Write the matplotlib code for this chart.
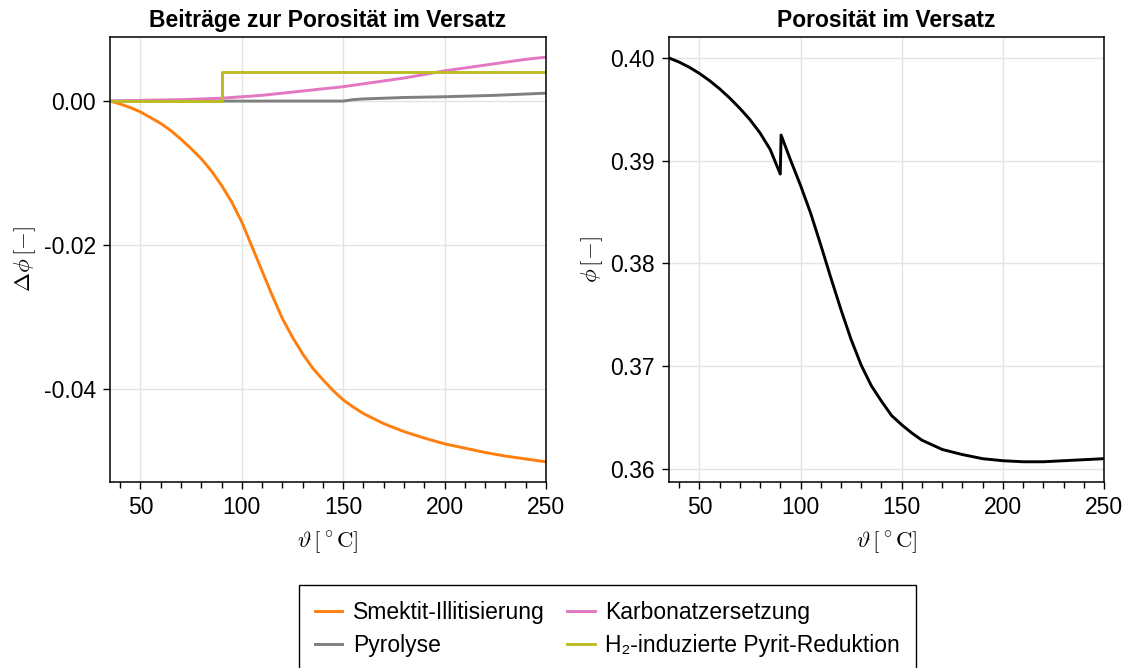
import matplotlib.pyplot as plt
from matplotlib.ticker import MultipleLocator, FuncFormatter

plt.rcParams['font.family'] = ['Liberation Sans', 'DejaVu Sans']
plt.rcParams['mathtext.fontset'] = 'cm'
plt.rcParams['axes.unicode_minus'] = False

# Left panel: contributions to porosity
t_smektit = [35, 40, 45, 50, 55, 60, 65, 70, 75, 80, 85, 90, 95, 100, 105, 110,
             115, 120, 125, 130, 135, 140, 145, 150, 155, 160, 165, 170, 180,
             190, 200, 210, 220, 230, 240, 250]
d_smektit = [0.0, -0.0004, -0.0009, -0.0015, -0.0023, -0.0031, -0.0041, -0.0053,
             -0.0066, -0.0080, -0.0097, -0.0117, -0.0140, -0.0168, -0.0202,
             -0.0236, -0.0270, -0.0302, -0.0328, -0.0351, -0.0371, -0.0387,
             -0.0402, -0.0415, -0.0425, -0.0434, -0.0441, -0.0448, -0.0459,
             -0.0468, -0.0476, -0.0482, -0.0488, -0.0493, -0.0497, -0.0501]

t_pyrolyse = [35, 150, 155, 160, 170, 180, 200, 225, 250]
d_pyrolyse = [0.0, 0.0, 0.0002, 0.0003, 0.0004, 0.0005, 0.0006, 0.0008, 0.0011]

t_karbonat = [35, 50, 70, 90, 100, 110, 120, 130, 140, 150, 160, 170, 180, 190,
              200, 210, 220, 230, 240, 250]
d_karbonat = [0.0, 0.0001, 0.0002, 0.0004, 0.0006, 0.0008, 0.0011, 0.0014,
              0.0017, 0.0020, 0.0024, 0.0028, 0.0032, 0.0037, 0.0042, 0.0046,
              0.0050, 0.0054, 0.0058, 0.0061]

t_pyrit = [35, 90, 90, 250]
d_pyrit = [0.0, 0.0, 0.0041, 0.0041]

# Right panel: total porosity
t_phi = [35, 40, 45, 50, 55, 60, 65, 70, 75, 80, 85, 90, 90.4, 95, 100, 105, 110,
         115, 120, 125, 130, 135, 140, 145, 150, 155, 160, 170, 180, 190, 200,
         210, 220, 230, 240, 250]
phi = [0.4000, 0.3996, 0.3991, 0.3985, 0.3978, 0.3970, 0.3961, 0.3951, 0.3940,
       0.3927, 0.3911, 0.3887, 0.3925, 0.3901, 0.3876, 0.3849, 0.3818, 0.3786,
       0.3755, 0.3726, 0.3701, 0.3681, 0.3666, 0.3652, 0.3643, 0.3635, 0.3628,
       0.3619, 0.3614, 0.3610, 0.3608, 0.3607, 0.3607, 0.3608, 0.3609, 0.3610]

series = [
    ("Smektit-Illitisierung", t_smektit, d_smektit, "#ff7f0e"),
    ("Pyrolyse", t_pyrolyse, d_pyrolyse, "#7f7f7f"),
    ("Karbonatzersetzung", t_karbonat, d_karbonat, "#e377c2"),
    ("H\u2082-induzierte Pyrit-Reduktion", t_pyrit, d_pyrit, "#bcbd22"),
]

FS = 16.5

fig = plt.figure(figsize=(11.31, 6.68), dpi=100)
ax1 = fig.add_axes([110 / 1131, 1 - 482 / 668, 436 / 1131, 445 / 668])
ax2 = fig.add_axes([669 / 1131, 1 - 482 / 668, 435 / 1131, 445 / 668])

handles = []
for label, t, d, c in series:
    h, = ax1.plot(t, d, color=c, lw=2.1, label=label)
    handles.append(h)
ax2.plot(t_phi, phi, color="black", lw=2.1)

fmt = FuncFormatter(lambda v, p: f"{v:.2f}")

ax1.set_ylim(-0.0529, 0.0089)
ax1.yaxis.set_major_locator(MultipleLocator(0.02))
ax1.yaxis.set_major_formatter(fmt)
ax1.set_ylabel(r"$\Delta\phi\,[-]$", fontsize=FS)
ax1.set_title("Beiträge zur Porosität im Versatz", fontsize=FS,
              fontweight="bold", pad=7)

ax2.set_ylim(0.35873, 0.40204)
ax2.yaxis.set_major_locator(MultipleLocator(0.01))
ax2.yaxis.set_major_formatter(fmt)
ax2.set_ylabel(r"$\phi\,[-]$", fontsize=FS)
ax2.set_title("Porosität im Versatz", fontsize=FS, fontweight="bold", pad=7)

for ax in (ax1, ax2):
    ax.set_xlim(35, 250)
    ax.xaxis.set_major_locator(MultipleLocator(50))
    ax.xaxis.set_minor_locator(MultipleLocator(10))
    ax.set_xlabel(r"$\vartheta\,[^\circ\mathrm{C}]$", fontsize=FS, labelpad=7)
    ax.grid(True, color="#e3e3e3", lw=1.0)
    ax.set_axisbelow(True)
    ax.tick_params(which="major", direction="out", length=5, width=1,
                   labelsize=FS, pad=5)
    ax.tick_params(which="minor", direction="out", length=4, width=1)
    for s in ax.spines.values():
        s.set_color("black")
        s.set_linewidth(1.1)

leg = fig.legend(handles=handles, loc="upper center", ncol=2,
                 bbox_to_anchor=(607.5 / 1131, 1 - 585 / 668), fontsize=FS,
                 frameon=True, fancybox=False, framealpha=1, edgecolor="black",
                 handlelength=1.2, handletextpad=0.45, columnspacing=1.0,
                 borderpad=0.7, labelspacing=0.45, borderaxespad=0)
leg.get_frame().set_linewidth(1.0)

fig.savefig("out.png", dpi=100, facecolor="white")
